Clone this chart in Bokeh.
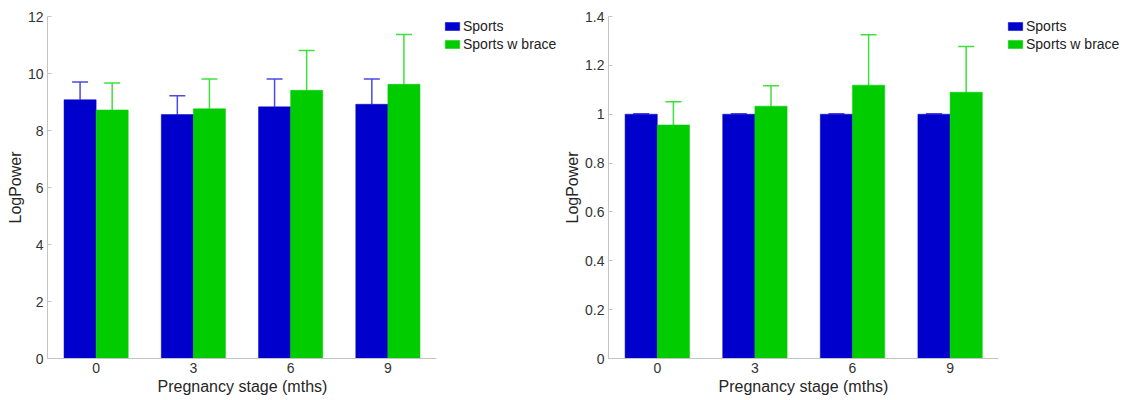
from bokeh.plotting import figure
from bokeh.layouts import row
from bokeh.models import (ColumnDataSource, Whisker, TeeHead, Legend, LegendItem,
                          NumeralTickFormatter, FixedTicker, Range1d, Title)
from bokeh.transform import dodge
from bokeh.embed import file_html
from bokeh.resources import INLINE

# ---- data ----
stages = ["0", "3", "6", "9"]
left_sports = [9.08, 8.56, 8.83, 8.92]
left_sports_err = [0.62, 0.66, 0.98, 0.89]
left_brace = [8.72, 8.76, 9.41, 9.62]
left_brace_err = [0.95, 1.05, 1.40, 1.75]

right_sports = [1.0, 1.0, 1.0, 1.0]
right_sports_err = [0.002, 0.002, 0.002, 0.002]
right_brace = [0.956, 1.033, 1.119, 1.090]
right_brace_err = [0.095, 0.084, 0.206, 0.187]

series_names = ["Sports", "Sports w brace"]
x_title = "Pregnancy stage (mths)"
y_title = "LogPower"
bar_colors = ["#0000CC", "#00CC00"]
err_colors = ["#4a4ae6", "#3ee03e"]
FONT = "Liberation Sans"


def make_panel(sports, sports_err, brace, brace_err, y_end, ticks, width,
               border_left, px_per_cat, legend_x, title_offset, fmt=None):
    idx = list(range(len(stages)))
    x_end = -0.5 + (width - border_left) / px_per_cat
    p = figure(x_range=Range1d(-0.5, x_end), y_range=(0, y_end), width=width, height=400,
               output_backend="svg", toolbar_location=None,
               min_border_left=border_left, min_border_right=0,
               min_border_top=16, min_border_bottom=42)
    p.outline_line_color = None
    p.xgrid.grid_line_color = None
    p.ygrid.grid_line_color = None
    p.background_fill_color = None

    renderers = []
    for i, (vals, errs, off) in enumerate([(sports, sports_err, -0.165),
                                          (brace, brace_err, 0.165)]):
        src = ColumnDataSource(dict(idx=idx, val=vals,
                                    top=[v + e for v, e in zip(vals, errs)]))
        r = p.vbar(x=dodge("idx", off), top="val", width=0.33,
                   bottom=0, source=src, fill_color=bar_colors[i],
                   line_color=bar_colors[i], line_width=0.5)
        renderers.append(r)
        w = Whisker(base=dodge("idx", off), lower="val",
                    upper="top", source=src, dimension="height",
                    line_color=err_colors[i], line_width=1.5,
                    upper_head=TeeHead(size=16, line_color=err_colors[i], line_width=1.5),
                    lower_head=None)
        p.add_layout(w)

    items = [LegendItem(label=series_names[i], renderers=[renderers[i]]) for i in range(2)]
    legend = Legend(items=items, location=(legend_x, 306), padding=0, margin=0,
                    spacing=2, glyph_width=18, glyph_height=10, label_height=16,
                    label_standoff=2, label_text_font=FONT,
                    label_text_font_size="14px", label_text_color="#222222",
                    background_fill_alpha=0, border_line_alpha=0)
    p.add_layout(legend)

    for ax in (p.xaxis[0], p.yaxis[0]):
        ax.axis_line_color = "#c4c4c4"
        ax.major_tick_line_color = "#c4c4c4"
        ax.minor_tick_line_color = None
        ax.major_label_text_font = FONT
        ax.major_label_text_font_size = "14px"
        ax.major_label_text_color = "#333333"
        ax.axis_label_text_font = FONT
        ax.axis_label_text_font_size = "16px"
        ax.axis_label_text_font_style = "normal"
        ax.axis_label_text_color = "#262626"

    p.xaxis.bounds = (-0.5, len(stages) - 0.5)
    p.xaxis.ticker = FixedTicker(ticks=idx)
    p.xaxis.major_label_overrides = {i: s for i, s in zip(idx, stages)}
    p.xaxis.major_tick_in = 0
    p.xaxis.major_tick_out = 0
    p.xaxis.major_label_standoff = 4

    # x-axis title centred under the axis span (not the whole frame)
    p.add_layout(Title(text=x_title, align="left", offset=title_offset, standoff=0,
                       text_font=FONT, text_font_size="16px", text_font_style="normal",
                       text_color="#262626"), "below")

    p.yaxis.axis_label = y_title
    p.yaxis.major_tick_in = 4
    p.yaxis.major_tick_out = 0
    p.yaxis.major_label_standoff = 4
    p.yaxis.axis_label_standoff = 1
    p.yaxis.ticker = FixedTicker(ticks=ticks)
    if fmt is not None:
        p.yaxis.formatter = fmt
    return p


p1 = make_panel(left_sports, left_sports_err, left_brace, left_brace_err, 12,
                [0, 2, 4, 6, 8, 10, 12], 558, 47, 97.25, 396, 110)
p2 = make_panel(right_sports, right_sports_err, right_brace, right_brace_err, 1.4,
                [0, 0.2, 0.4, 0.6, 0.8, 1.0, 1.2, 1.4], 570, 50, 97.6, 398, 110,
                fmt=NumeralTickFormatter(format="0.[0]"))

layout = row(p1, p2, spacing=0)
open("out.html", "w").write(file_html(layout, INLINE))
